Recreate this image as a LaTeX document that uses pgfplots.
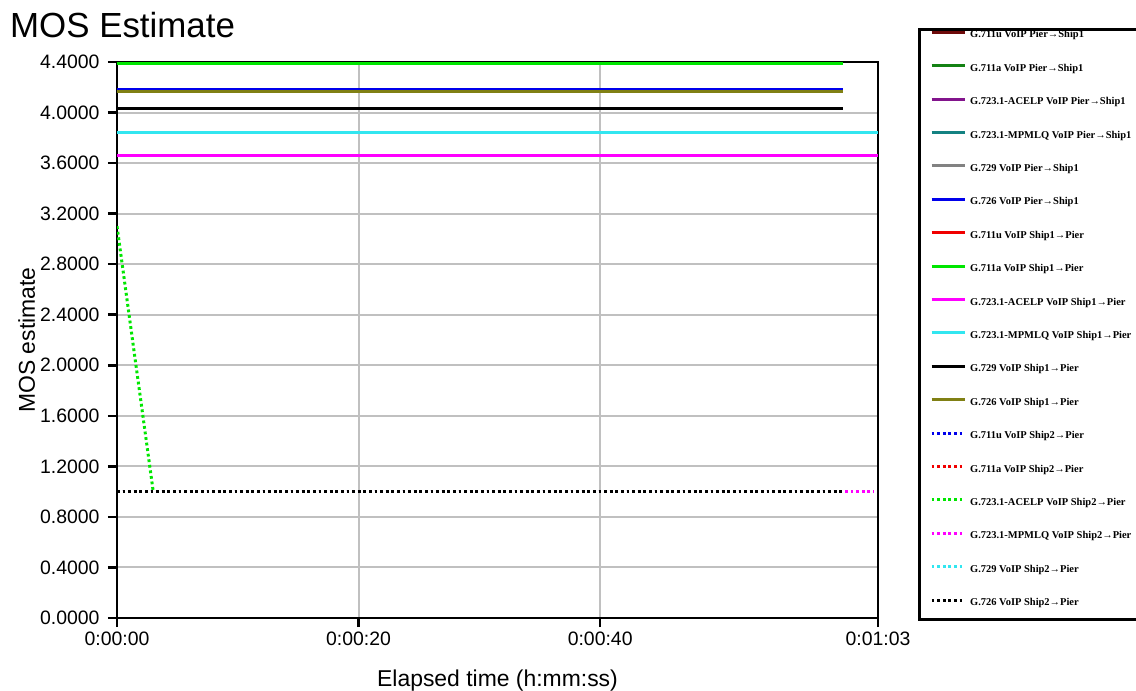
\documentclass[border=0pt]{standalone}
\usepackage{pgfplots}
\pgfplotsset{compat=1.18}
\usepackage{fontspec}
\setmainfont{Liberation Sans}
\newfontfamily\legfont{Liberation Serif}
\definecolor{gridgray}{RGB}{192,192,192}
\definecolor{darkred}{RGB}{110,10,10}
\definecolor{dgreen}{RGB}{20,130,20}
\definecolor{purp}{RGB}{130,20,140}
\definecolor{tealc}{RGB}{20,130,130}
\definecolor{greyc}{RGB}{130,130,130}
\definecolor{olive}{RGB}{128,128,20}
\definecolor{mblue}{RGB}{0,0,235}
\definecolor{mred}{RGB}{240,0,0}
\definecolor{mgreen}{RGB}{0,230,0}
\definecolor{mmag}{RGB}{255,0,255}
\definecolor{mcyan}{RGB}{50,230,240}
\begin{document}
\begin{tikzpicture}[x=1bp,y=1bp]
\begin{axis}[
  at={(117bp,73bp)}, anchor=south west,
  scale only axis, width=761bp, height=556bp,
  xmin=0, xmax=63, ymin=0, ymax=4.4,
  xtick={0,20,40,63},
  xticklabels={0:00:00,0:00:20,0:00:40,0:01:03},
  ytick={0,0.4,...,4.41},
  yticklabel={\pgfmathprintnumber[fixed,fixed zerofill,precision=4]{\tick}},
  /pgf/number format/assume math mode=true,
  tick label style={font=\fontsize{19.5}{21}\selectfont},
  xtick pos=bottom, ytick pos=left,
  tick align=outside, major tick length=9bp,
  tick style={black, line width=2.5bp},
  axis line style={black, line width=2.8bp},
  grid=major, major grid style={gridgray, line width=2bp},
  xticklabel style={yshift=-1bp},
  yticklabel style={xshift=-5bp},
  xlabel={Elapsed time (h:mm:ss)},
  ylabel={MOS estimate},
  label style={font=\fontsize{23}{26}\selectfont},
  xlabel style={yshift=-18bp},
  ylabel style={yshift=-2bp},
  legend cell align=left,
  legend style={draw=none, fill=none, at={(1.0683,1.058)}, anchor=north west,
    inner sep=0pt, row sep=22.4bp,
    font=\legfont\bfseries\fontsize{10.5}{11}\selectfont,
    nodes={inner sep=1bp, text height=7bp, text depth=2bp}},
  legend image code/.code={\draw[#1] (0bp,3.2bp) -- (33bp,3.2bp);},
  every axis plot/.append style={line width=3bp},
  dots/.style={dash pattern=on 2.8bp off 2.8bp},
  clip=true,
]
% Pier -> Ship1
\addplot[darkred] coordinates {(0,4.39) (60.1,4.39)};
\addlegendentry{\hspace{3bp}G.711u VoIP Pier→Ship1}
\addplot[dgreen] coordinates {(0,4.39) (60.1,4.39)};
\addlegendentry{\hspace{3bp}G.711a VoIP Pier→Ship1}
\addplot[purp] coordinates {(0,3.66) (63,3.66)};
\addlegendentry{\hspace{3bp}G.723.1-ACELP VoIP Pier→Ship1}
\addplot[tealc] coordinates {(0,3.84) (63,3.84)};
\addlegendentry{\hspace{3bp}G.723.1-MPMLQ VoIP Pier→Ship1}
\addplot[greyc] coordinates {(0,4.03) (60.1,4.03)};
\addlegendentry{\hspace{3bp}G.729 VoIP Pier→Ship1}
\addplot[mblue] coordinates {(0,4.18) (60.1,4.18)};
\addlegendentry{\hspace{3bp}G.726 VoIP Pier→Ship1}
% Ship1 -> Pier
\addplot[mred] coordinates {(0,4.39) (60.1,4.39)};
\addlegendentry{\hspace{3bp}G.711u VoIP Ship1→Pier}
\addplot[mgreen] coordinates {(0,4.385) (60.1,4.385)};
\addlegendentry{\hspace{3bp}G.711a VoIP Ship1→Pier}
\addplot[mmag] coordinates {(0,3.66) (63,3.66)};
\addlegendentry{\hspace{3bp}G.723.1-ACELP VoIP Ship1→Pier}
\addplot[mcyan] coordinates {(0,3.84) (63,3.84)};
\addlegendentry{\hspace{3bp}G.723.1-MPMLQ VoIP Ship1→Pier}
\addplot[black] coordinates {(0,4.035) (60.1,4.035)};
\addlegendentry{\hspace{3bp}G.729 VoIP Ship1→Pier}
\addplot[olive] coordinates {(0,4.17) (60.1,4.17)};
\addlegendentry{\hspace{3bp}G.726 VoIP Ship1→Pier}
% Ship2 -> Pier (dotted)
\addplot[mblue, dots] coordinates {(0,1.0) (60.1,1.0)};
\addlegendentry{\hspace{3bp}G.711u VoIP Ship2→Pier}
\addplot[mred, dots] coordinates {(0,1.0) (60.1,1.0)};
\addlegendentry{\hspace{3bp}G.711a VoIP Ship2→Pier}
\addplot[mgreen, dots] coordinates {(0,3.10) (3.0,1.0)};
\addlegendentry{\hspace{3bp}G.723.1-ACELP VoIP Ship2→Pier}
\addplot[mmag, dots] coordinates {(0,1.0) (62.6,1.0)};
\addlegendentry{\hspace{3bp}G.723.1-MPMLQ VoIP Ship2→Pier}
\addplot[mcyan, dots] coordinates {(0,1.0) (60.1,1.0)};
\addlegendentry{\hspace{3bp}G.729 VoIP Ship2→Pier}
\addplot[black, dots] coordinates {(0,1.0) (60.1,1.0)};
\addlegendentry{\hspace{3bp}G.726 VoIP Ship2→Pier}
\end{axis}
\node[anchor=west, font=\fontsize{35}{38}\selectfont, inner sep=0pt] at (10bp,666bp) {MOS Estimate};
\draw[black, line width=3bp] (919bp,71bp) rectangle (1160bp,661bp);
\pgfresetboundingbox
\path[use as bounding box] (0bp,0bp) rectangle (1136bp,691bp);
\end{tikzpicture}
\end{document}
